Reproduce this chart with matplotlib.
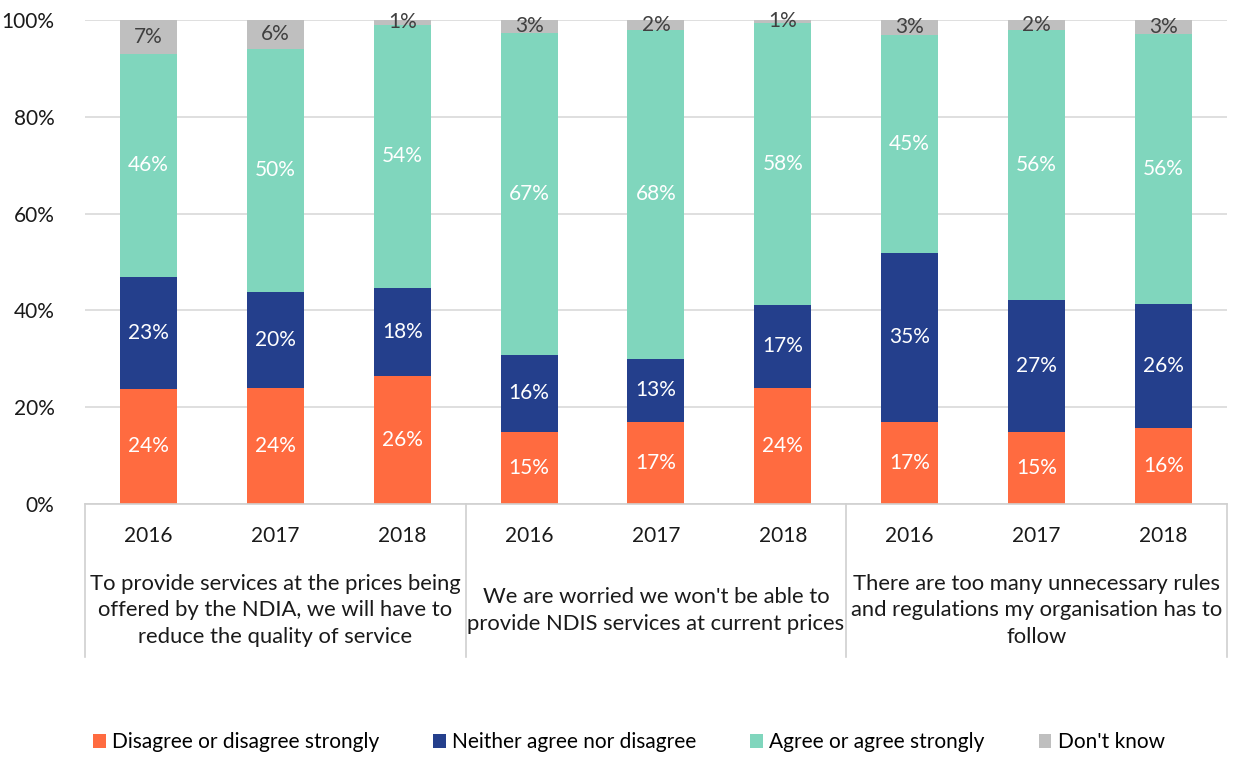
import matplotlib.pyplot as plt
import matplotlib.transforms as mtransforms
import numpy as np

plt.rcParams['font.family'] = ['Lato', 'DejaVu Sans']

# Chart data (percent of respondents)
years = ['2016', '2017', '2018']
groups = ['To provide services at the prices being\noffered by the NDIA, we will have to\nreduce the quality of service',
          "We are worried we won't be able to\nprovide NDIS services at current prices",
          'There are too many unnecessary rules\nand regulations my organisation has to\nfollow']
disagree = [23.8, 24.0, 26.4, 14.9, 16.9, 24.0, 16.9, 14.9, 15.8]
neither = [23.1, 19.8, 18.2, 15.9, 13.1, 17.1, 35.0, 27.2, 25.6]
agree = [46.1, 50.2, 54.4, 66.6, 67.9, 58.3, 45.0, 55.8, 55.6]
dontknow = [7.0, 6.0, 1.0, 2.6, 2.1, 0.6, 3.1, 2.1, 3.0]

series = ['Disagree or disagree strongly', 'Neither agree nor disagree',
          'Agree or agree strongly', "Don't know"]
colors = ['#FF6B40', '#243F8C', '#80D6BD', '#BFBFBF']
label_colors = ['white', 'white', 'white', '#404040']

fig = plt.figure(figsize=(12.33, 7.62), dpi=100)
ax = fig.add_axes([0.069, 0.3386, 0.926, 0.6352])

x = np.arange(len(disagree))
bottom = np.zeros(len(x))
for vals, name, col, lc in zip([disagree, neither, agree, dontknow], series, colors, label_colors):
    vals = np.array(vals)
    ax.bar(x, vals, 0.45, bottom=bottom, color=col, label=name, zorder=2)
    for xi, b, v in zip(x, bottom, vals):
        ax.text(xi, b + v / 2, '{:.0f}%'.format(v), ha='center', va='center',
                fontsize=15, color=lc, zorder=3)
    bottom += vals

ax.set_xlim(-0.5, len(x) - 0.5)
ax.set_ylim(0, 100)
ax.set_yticks(range(0, 101, 20))
ax.set_yticklabels(['{}%'.format(t) for t in range(0, 101, 20)], fontsize=15, color='#1a1a1a')
ax.tick_params(axis='y', length=0, pad=22)
ax.grid(axis='y', color='#D9D9D9', linewidth=1.2, zorder=0)
ax.set_xticks([])
for s in ['left', 'right', 'top']:
    ax.spines[s].set_visible(False)
ax.spines['bottom'].set_color('#D0D0D0')
ax.spines['bottom'].set_linewidth(1.2)

# Two-level category axis
trans = mtransforms.blended_transform_factory(ax.transData, ax.transAxes)
for xi in x:
    ax.text(xi, -0.066, years[xi % 3], transform=trans, ha='center', va='center',
            fontsize=15, color='#1a1a1a')
for gi, g in enumerate(groups):
    ax.text(gi * 3 + 1, -0.22, g, transform=trans, ha='center', va='center',
            fontsize=15.8, color='#1a1a1a', linespacing=1.38)
for sep in [-0.5, 2.5, 5.5, 8.5]:
    ax.plot([sep, sep], [0, -0.316], transform=trans, color='#D0D0D0',
            linewidth=1.2, clip_on=False)

fig.legend(loc='lower center', bbox_to_anchor=(0.51, -0.012), ncol=4, frameon=False,
           fontsize=15, handlelength=0.6, handleheight=0.6, handletextpad=0.3,
           columnspacing=2.6)

fig.savefig('out.png', dpi=100)
